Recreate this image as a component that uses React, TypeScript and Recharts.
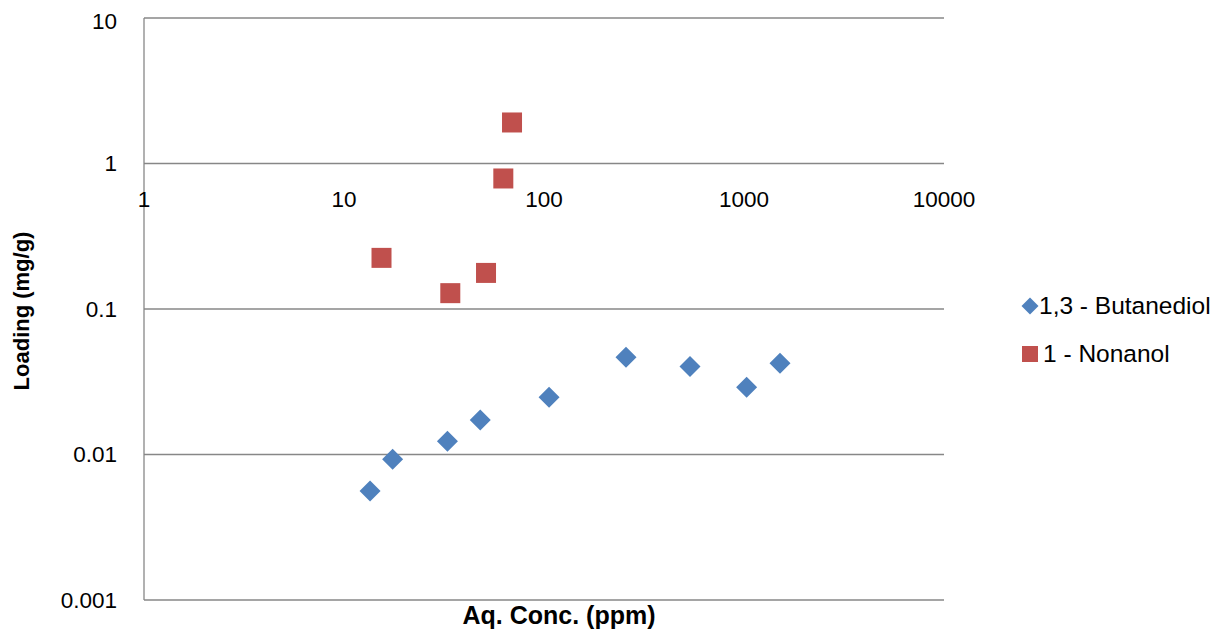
import React from 'react';
import { ScatterChart, Scatter, XAxis, YAxis, CartesianGrid, ReferenceDot, Legend } from 'recharts';

const butanediolX = [13.5, 17.5, 32.9, 48.0, 106, 257, 537, 1031, 1514];
const butanediolY = [0.00561, 0.00927, 0.01233, 0.01726, 0.0247, 0.0466, 0.0402, 0.029, 0.0424];
const nonanolX = [15.4, 34.0, 51.3, 62.6, 69.2];
const nonanolY = [0.2246, 0.1285, 0.177, 0.789, 1.914];
const xTicks = [1, 10, 100, 1000, 10000];
const yTicks = [0.001, 0.01, 0.1, 1, 10];
const seriesNames = ['1,3 - Butanediol', '1 - Nonanol'];
const seriesColors = ['#4F81BD', '#C0504D'];

const FONT = '"Liberation Sans", Arial, sans-serif';
const GRID = '#878787';

const butanediolData = butanediolX.map((x, i) => ({ x, y: butanediolY[i] }));
const nonanolData = nonanolX.map((x, i) => ({ x, y: nonanolY[i] }));

const Diamond = (props: any) => {
  const { cx, cy, fill } = props;
  const r = 10.5;
  return (
    <polygon
      points={`${cx},${cy - r} ${cx + r},${cy} ${cx},${cy + r} ${cx - r},${cy}`}
      fill={fill}
    />
  );
};

const Square = (props: any) => {
  const { cx, cy, fill } = props;
  const h = 10;
  return <rect x={cx - h} y={cy - h} width={2 * h} height={2 * h} fill={fill} />;
};

const LegendContent = () => (
  <div style={{ fontFamily: FONT, fontSize: 24.5, color: '#000' }}>
    {seriesNames.map((name, i) => (
      <div key={name} style={{ display: 'flex', alignItems: 'center', height: 48 }}>
        <svg width={18} height={22} style={{ marginRight: i === 0 ? 0 : 4, flex: 'none' }}>
          {i === 0 ? (
            <polygon points="9,2.5 17.5,11 9,19.5 0.5,11" fill={seriesColors[0]} />
          ) : (
            <rect x={1} y={3} width={16} height={16} fill={seriesColors[1]} />
          )}
        </svg>
        <span style={{ whiteSpace: 'nowrap' }}>{name}</span>
      </div>
    ))}
  </div>
);

const XTitle = (props: any) => {
  const { viewBox } = props;
  return (
    <text
      x={viewBox.x + viewBox.width / 2 + 15}
      y={viewBox.y + viewBox.height - 5}
      textAnchor="middle"
      fontFamily={FONT}
      fontWeight="bold"
      fontSize={25}
      fill="#000"
    >
      Aq. Conc. (ppm)
    </text>
  );
};

const YTitle = (props: any) => {
  const { viewBox } = props;
  const x = viewBox.x + 21;
  const y = viewBox.y + viewBox.height / 2 + 2;
  return (
    <text
      x={x}
      y={y}
      transform={`rotate(-90, ${x}, ${y})`}
      textAnchor="middle"
      fontFamily={FONT}
      fontWeight="bold"
      fontSize={22}
      fill="#000"
    >
      Loading (mg/g)
    </text>
  );
};

export default function App() {
  return (
    <ScatterChart
      width={1209}
      height={621}
      margin={{ top: 10, right: 273, bottom: 0, left: 0 }}
      style={{ fontFamily: FONT }}
    >
      <CartesianGrid vertical={false} stroke={GRID} strokeWidth={1.3} />
      <XAxis
        dataKey="x"
        type="number"
        scale="log"
        domain={[1, 10000]}
        ticks={xTicks}
        allowDataOverflow
        tick={false}
        tickLine={false}
        axisLine={false}
        height={29}
        label={<XTitle />}
      />
      <YAxis
        dataKey="y"
        type="number"
        scale="log"
        domain={[0.001, 10]}
        ticks={yTicks}
        allowDataOverflow
        width={136}
        tickLine={false}
        tickSize={0}
        tickMargin={27}
        axisLine={{ stroke: GRID, strokeWidth: 1.3 }}
        tick={{ fill: '#000', fontSize: 22.5, fontFamily: FONT }}
        tickFormatter={(v: number) => String(v)}
        label={<YTitle />}
      />
      {xTicks.map((t) => (
        <ReferenceDot
          key={t}
          x={t}
          y={1}
          r={0}
          fill="none"
          stroke="none"
          label={{ value: String(t), position: 'bottom', offset: 28, fill: '#000', fontSize: 22.5, fontFamily: FONT }}
        />
      ))}
      <Scatter
        name={seriesNames[0]}
        data={butanediolData}
        fill={seriesColors[0]}
        shape={<Diamond />}
        isAnimationActive={false}
      />
      <Scatter
        name={seriesNames[1]}
        data={nonanolData}
        fill={seriesColors[1]}
        shape={<Square />}
        isAnimationActive={false}
      />
      <Legend
        layout="horizontal"
        verticalAlign="middle"
        align="center"
        content={<LegendContent />}
        wrapperStyle={{ left: 1013, top: 274, width: 204, right: 'auto', bottom: 'auto' }}
      />
    </ScatterChart>
  );
}
